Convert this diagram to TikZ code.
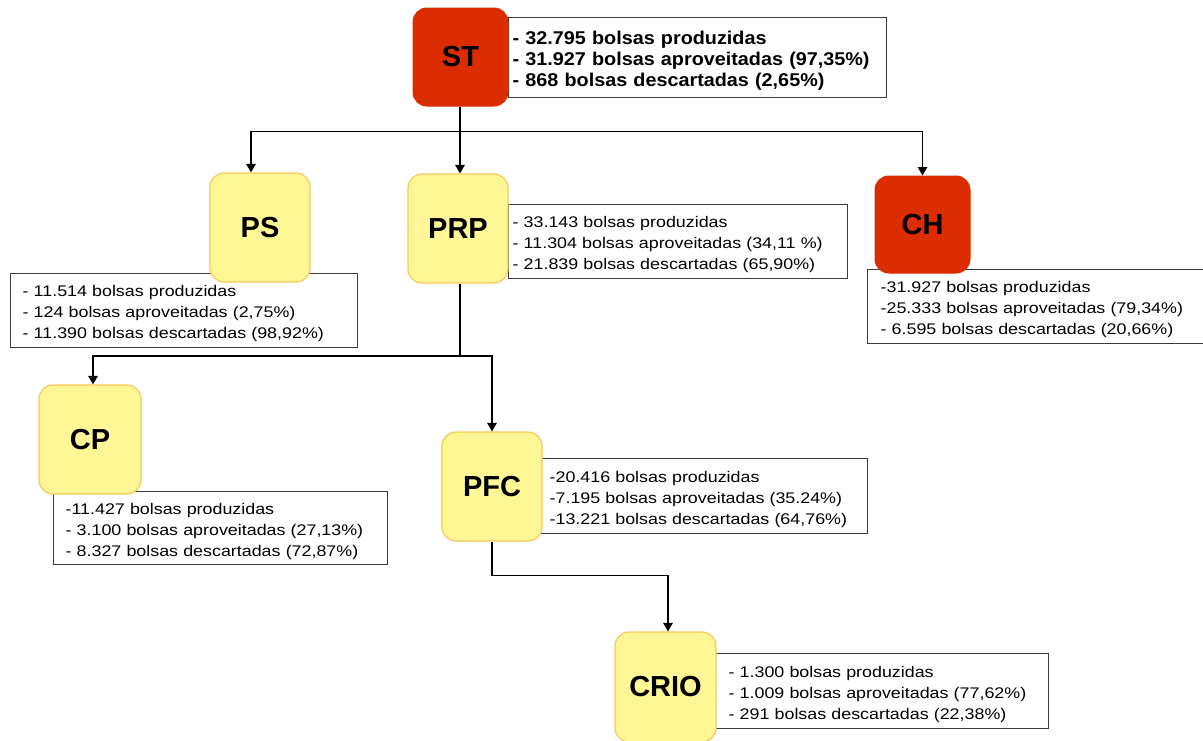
\documentclass[tikz,border=0pt]{standalone}
\usepackage{fontspec}
\setmainfont{Liberation Sans}
\newfontfamily\infofont[FakeStretch=1.16]{Liberation Sans}
\newfontfamily\stinfofont[FakeStretch=1.07]{Liberation Sans}
\usetikzlibrary{arrows.meta}
\definecolor{stred}{RGB}{220,45,0}
\definecolor{boxyellow}{RGB}{255,246,150}
\definecolor{boxorange}{RGB}{250,200,90}
\definecolor{infogray}{RGB}{60,60,60}
\begin{document}
\begin{tikzpicture}[x=1pt,y=-1pt]
% Set styles for unit boxes, count boxes and links
\tikzstyle{Red}=[rounded corners=14pt,fill=stred,draw=stred,line width=1pt,inner sep=0pt,font=\bfseries\fontsize{29}{29}\selectfont]
\tikzstyle{Yellow}=[rounded corners=14pt,fill=boxyellow,draw=boxorange,line width=1.2pt,inner sep=0pt,font=\bfseries\fontsize{29}{29}\selectfont]
\tikzstyle{Count}=[draw=infogray,line width=1.3pt,fill=white,anchor=north west,align=left,inner ysep=0pt,text height=17pt,font=\infofont\fontsize{15.4}{21}\selectfont]
\tikzstyle{Link}=[line width=1.6pt,-{Triangle[length=8.5pt,width=9.5pt]}]
\useasboundingbox (0,0) rectangle (1203,740);
% Count boxes
\node[Count,minimum width=378pt,minimum height=80pt,text width=370pt,inner xsep=4pt,text height=19.5pt,
  font=\stinfofont\bfseries\fontsize{18.5}{21.3}\selectfont] (STc) at (508,17)
  {- 32.795 bolsas produzidas\\- 31.927 bolsas aproveitadas (97,35\%)\\- 868 bolsas descartadas (2,65\%)};
\node[Count,minimum width=347pt,minimum height=74pt,text width=323pt,inner xsep=12pt] (PSc) at (10,273)
  {- 11.514 bolsas produzidas\\- 124 bolsas aproveitadas (2,75\%)\\- 11.390 bolsas descartadas (98,92\%)};
\node[Count,minimum width=339pt,minimum height=74pt,text width=331pt,inner xsep=4pt] (PRPc) at (508,204)
  {- 33.143 bolsas produzidas\\- 11.304 bolsas aproveitadas (34,11 \%)\\- 21.839 bolsas descartadas (65,90\%)};
\node[Count,minimum width=336pt,minimum height=74pt,text width=310pt,inner xsep=13pt] (CHc) at (867,269)
  {-31.927 bolsas produzidas\\-25.333 bolsas aproveitadas (79,34\%)\\- 6.595 bolsas descartadas (20,66\%)};
\node[Count,minimum width=334pt,minimum height=73pt,text width=310pt,inner xsep=12pt] (CPc) at (53,491)
  {-11.427 bolsas produzidas\\- 3.100 bolsas aproveitadas (27,13\%)\\- 8.327 bolsas descartadas (72,87\%)};
\node[Count,minimum width=331pt,minimum height=75pt,text width=305pt,inner xsep=13pt] (PFCc) at (536,458)
  {-20.416 bolsas produzidas\\-7.195 bolsas aproveitadas (35.24\%)\\-13.221 bolsas descartadas (64,76\%)};
\node[Count,minimum width=336pt,minimum height=75pt,text width=304pt,inner xsep=16pt] (CRIOc) at (712,653)
  {- 1.300 bolsas produzidas\\- 1.009 bolsas aproveitadas (77,62\%)\\- 291 bolsas descartadas (22,38\%)};
% Unit boxes
\foreach \n/\x/\y/\w/\h/\s in {
    ST/460.5/57/95/98/Red,
    PS/260/227.5/100/109/Yellow,
    PRP/458/228.5/100/109/Yellow,
    CH/922.5/224.5/95/97/Red,
    CP/90/439.5/102/109/Yellow,
    PFC/492/486.5/100/109/Yellow,
    CRIO/665.5/687/101/110/Yellow}
  \node[\s,minimum width=\w pt,minimum height=\h pt] at (\x,\y) (\n) {\n};
% Links
\coordinate (bus) at (460,131.5);
\coordinate (prpbus) at (460,356);
\draw[line width=1.6pt] (ST.south -| bus) -- (bus);
\draw[Link] (bus) -| ([xshift=-9pt]PS.north);
\draw[Link] (bus) -- (bus |- PRP.north);
\draw[Link] (bus) -| (CH.north);
\draw[line width=1.6pt] (PRP.south -| prpbus) -- (prpbus);
\draw[Link] (prpbus) -| ([xshift=3pt]CP.north);
\draw[Link] (prpbus) -| (PFC.north);
\draw[Link] (PFC.south) -- ++(0,34) -| ([xshift=2.5pt]CRIO.north);
\end{tikzpicture}
\end{document}
